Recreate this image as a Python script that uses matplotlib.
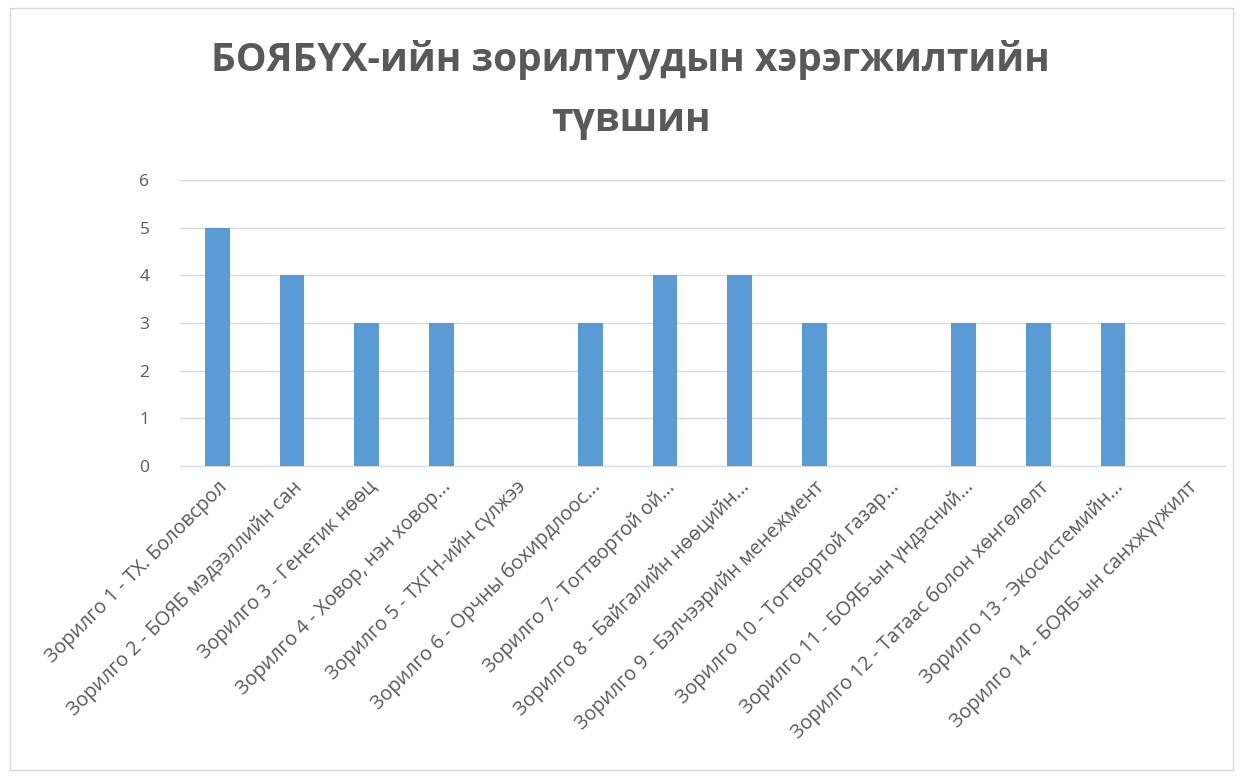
import numpy as np
import matplotlib.pyplot as plt

plt.rcParams['font.family'] = ['Open Sans', 'DejaVu Sans']

title = "БОЯБҮХ-ийн зорилтуудын хэрэгжилтийн\nтүвшин"
labels = [
    "Зорилго 1 - ТХ. Боловсрол",
    "Зорилго 2 - БОЯБ мэдээллийн сан",
    "Зорилго 3 - Генетик нөөц",
    "Зорилго 4 - Ховор, нэн ховор...",
    "Зорилго 5 - ТХГН-ийн сүлжээ",
    "Зорилго 6 - Орчны бохирдлоос...",
    "Зорилго 7- Тогтвортой ой...",
    "Зорилго 8 - Байгалийн нөөцийн...",
    "Зорилго 9 - Бэлчээрийн менежмент",
    "Зорилго 10 - Тогтвортой газар...",
    "Зорилго 11 - БОЯБ-ын үндэсний...",
    "Зорилго 12 - Татаас болон хөнгөлөлт",
    "Зорилго 13 - Экосистемийн...",
    "Зорилго 14 - БОЯБ-ын санхжүүжилт",
]
values = [5, 4, 3, 3, 0, 3, 4, 4, 3, 0, 3, 3, 3, 0]

fig = plt.figure(figsize=(12.44, 7.78), dpi=100)
ax = fig.add_axes([0.1447, 0.401, 0.840, 0.3676])
x = np.arange(len(labels))
ax.bar(x, values, width=0.33, color='#5B9BD5', zorder=3)
ax.set_xlim(-0.5, len(labels) - 0.5)
ax.set_ylim(0, 6)
ax.set_yticks(range(0, 7))
ax.grid(axis='y', color='#D9D9D9', linewidth=1, zorder=0)
for s in ['top', 'right', 'left']:
    ax.spines[s].set_visible(False)
ax.spines['bottom'].set_color('#D9D9D9')
ax.tick_params(axis='both', length=0, colors='#595959', labelsize=12.5)
ax.tick_params(axis='y', pad=22)
ax.tick_params(axis='x', pad=8)
ax.set_xticks(x)
ax.set_xticklabels(labels, rotation=45, ha='right', rotation_mode='anchor', fontsize=14.2)

fig.text(0.507, 0.949, title, ha='center', va='top', fontsize=28, fontweight='bold',
         color='#595959', linespacing=1.72)

fig.patches.append(plt.Rectangle((0.008, 0.01), 0.983, 0.98, transform=fig.transFigure,
                                 fill=False, edgecolor='#D9D9D9', linewidth=1))
fig.savefig('out.png', dpi=100)
